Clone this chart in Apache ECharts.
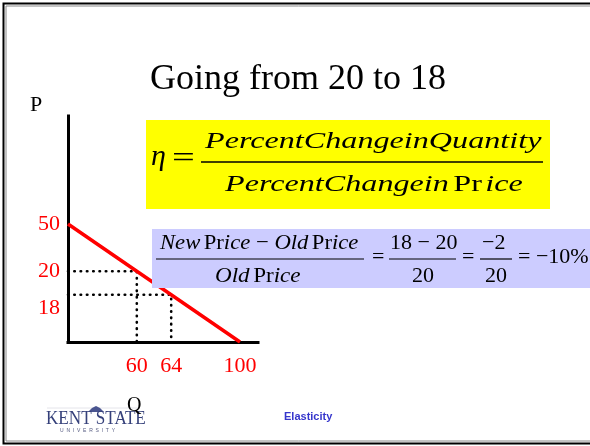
<!DOCTYPE html>
<html>
<head>
<meta charset="utf-8">
<style>
html,body{margin:0;padding:0;background:#fff}
#main{width:590px;height:446px}
</style>
</head>
<body>
<div id="main"></div>
<script src="https://cdn.jsdelivr.net/npm/echarts@6/dist/echarts.min.js"></script>
<script>
// axis categories, blank ones are spacers so the sketch keeps its proportions
var quantityCats = ['0', 'q1', '60', '64', 'q2', '100'];
var priceCats = ['0', 'p1', '18', '20', 'p2', '50'];
var quantityTicks = ['60', '64', '100'];
var priceTicks = ['50', '20', '18'];

// demand curve  P = 50 - Q/2
var demandQ = ['0', '60', '64', '100'];
var demandP = ['50', '20', '18', '0'];

// old and new (Q, P)
var oldPoint = ['60', '20'];
var newPoint = ['64', '18'];

var serif = '"Liberation Serif", "Times New Roman", serif';
var red = '#ff0000';

var chart = echarts.init(document.getElementById('main'));

function guide(pt) {
  return [['0', pt[1]], pt, [pt[0], '0']];
}

var dotted = {color: '#000', width: 2.6, type: [0.5, 5.8], cap: 'round'};

var option = {
  animation: false,
  grid: [
    {left: 68, top: 224, width: 172, height: 118},   // data area
    {left: 68, top: 116, width: 190, height: 226}    // axis frame
  ],
  xAxis: [
    {
      type: 'category', gridIndex: 0, data: quantityCats, boundaryGap: false,
      axisLine: {show: false}, axisTick: {show: false}, splitLine: {show: false},
      axisLabel: {
        color: red, fontFamily: serif, fontSize: 22, margin: 13, interval: 0,
        formatter: function (v) { return quantityTicks.indexOf(v) >= 0 ? v : ''; }
      }
    },
    {
      type: 'value', gridIndex: 1, min: 0, max: 1,
      axisLine: {show: true, lineStyle: {color: '#000', width: 3, cap: 'square'}},
      axisTick: {show: false}, axisLabel: {show: false}, splitLine: {show: false}
    }
  ],
  yAxis: [
    {
      type: 'category', gridIndex: 0, data: priceCats, boundaryGap: false,
      axisLine: {show: false}, axisTick: {show: false}, splitLine: {show: false},
      axisLabel: {
        color: red, fontFamily: serif, fontSize: 22, margin: 8, interval: 0,
        formatter: function (v) {
          if (priceTicks.indexOf(v) < 0) return '';
          return v === newPoint[1] ? '{lo|' + v + '}' : v;
        },
        rich: {
          lo: {color: red, fontFamily: serif, fontSize: 22, padding: [26, 0, 0, 0]}
        }
      }
    },
    {
      type: 'value', gridIndex: 1, min: 0, max: 1,
      axisLine: {show: true, lineStyle: {color: '#000', width: 3, cap: 'square'}},
      axisTick: {show: false}, axisLabel: {show: false}, splitLine: {show: false}
    }
  ],
  series: [
    {
      type: 'line', xAxisIndex: 0, yAxisIndex: 0, symbol: 'none', z: 2,
      data: guide(oldPoint), lineStyle: dotted
    },
    {
      type: 'line', xAxisIndex: 0, yAxisIndex: 0, symbol: 'none', z: 2,
      data: guide(newPoint), lineStyle: dotted
    },
    {
      type: 'line', xAxisIndex: 0, yAxisIndex: 0, symbol: 'none', z: 3,
      data: demandQ.map(function (q, i) { return [q, demandP[i]]; }),
      lineStyle: {color: red, width: 3.5}
    }
  ],
  graphic: [
    // slide frame
    {type: 'polyline', z: 1, shape: {points: [[600, 3.5], [3.5, 3.5], [3.5, 443.5], [600, 443.5]]},
      style: {stroke: '#000', lineWidth: 2, fill: null}},
    {type: 'polyline', z: 1, shape: {points: [[600, 6], [6, 6], [6, 441], [600, 441]]},
      style: {stroke: '#888', lineWidth: 1, fill: null}},

    {type: 'text', x: 150, y: 80, z: 100,
      style: {text: 'Going from 20 to 18', font: '36px ' + serif, fill: '#000', verticalAlign: 'middle'}},
    {type: 'text', x: 30, y: 105, z: 100,
      style: {text: 'P', font: '22px ' + serif, fill: '#000', verticalAlign: 'middle'}},

    // elasticity formula
    {type: 'rect', z: 90, shape: {x: 146, y: 120, width: 404, height: 89}, style: {fill: '#ffff00'}},
    {type: 'text', x: 151, y: 157, z: 100,
      style: {text: 'η', font: 'italic 30px ' + serif, fill: '#000', verticalAlign: 'middle'}},
    {type: 'text', x: 172, y: 159, z: 100, scaleX: 1.35,
      style: {text: '=', font: '30px ' + serif, fill: '#000', verticalAlign: 'middle'}},
    {type: 'text', x: 205, y: 142, z: 100, scaleX: 1.34,
      style: {text: 'PercentChangeinQuantity', font: 'italic 24px ' + serif, fill: '#000', verticalAlign: 'middle'}},
    {type: 'line', z: 100, shape: {x1: 201, y1: 162, x2: 543, y2: 162}, style: {stroke: '#000', lineWidth: 1.5}},
    {type: 'text', x: 225, y: 185, z: 100, scaleX: 1.34,
      style: {
        text: '{i|PercentChangein} {u|Pr}{s| }{i|ice}', verticalAlign: 'middle',
        rich: {
          i: {fontFamily: serif, fontSize: 24, fontStyle: 'italic', fill: '#000'},
          u: {fontFamily: serif, fontSize: 24, fill: '#000'},
          s: {fontFamily: serif, fontSize: 10, fill: '#000'}
        }
      }},

    // percent change in price
    {type: 'rect', z: 90, shape: {x: 152, y: 229, width: 450, height: 59}, style: {fill: '#ccccff'}},
    {type: 'text', x: 160, y: 243, z: 100, scaleX: 1.03,
      style: {
        text: '{i|New} {u|Pr}{i|ice}{u| − }{i|Old} {u|Pr}{i|ice}', verticalAlign: 'middle',
        rich: {
          i: {fontFamily: serif, fontSize: 22, fontStyle: 'italic', fill: '#000'},
          u: {fontFamily: serif, fontSize: 22, fill: '#000'}
        }
      }},
    {type: 'line', z: 100, shape: {x1: 156, y1: 259, x2: 364, y2: 259}, style: {stroke: '#000', lineWidth: 1.2}},
    {type: 'text', x: 215, y: 276, z: 100, scaleX: 1.05,
      style: {
        text: '{i|Old} {u|Pr}{i|ice}', verticalAlign: 'middle',
        rich: {
          i: {fontFamily: serif, fontSize: 22, fontStyle: 'italic', fill: '#000'},
          u: {fontFamily: serif, fontSize: 22, fill: '#000'}
        }
      }},
    {type: 'text', x: 372, y: 257, z: 100,
      style: {text: '=', font: '22px ' + serif, fill: '#000', verticalAlign: 'middle'}},
    {type: 'text', x: 390, y: 243, z: 100,
      style: {text: '18 − 20', font: '22px ' + serif, fill: '#000', verticalAlign: 'middle'}},
    {type: 'line', z: 100, shape: {x1: 389, y1: 259, x2: 456, y2: 259}, style: {stroke: '#000', lineWidth: 1.2}},
    {type: 'text', x: 412, y: 276, z: 100,
      style: {text: '20', font: '22px ' + serif, fill: '#000', verticalAlign: 'middle'}},
    {type: 'text', x: 462, y: 257, z: 100,
      style: {text: '=', font: '22px ' + serif, fill: '#000', verticalAlign: 'middle'}},
    {type: 'text', x: 482, y: 243, z: 100,
      style: {text: '−2', font: '22px ' + serif, fill: '#000', verticalAlign: 'middle'}},
    {type: 'line', z: 100, shape: {x1: 480, y1: 259, x2: 512, y2: 259}, style: {stroke: '#000', lineWidth: 1.2}},
    {type: 'text', x: 485, y: 276, z: 100,
      style: {text: '20', font: '22px ' + serif, fill: '#000', verticalAlign: 'middle'}},
    {type: 'text', x: 518, y: 257, z: 100,
      style: {text: '= −10%', font: '22px ' + serif, fill: '#000', verticalAlign: 'middle'}},

    // footer
    {type: 'line', z: 100, shape: {x1: 47, y1: 408, x2: 140, y2: 408}, style: {stroke: '#e4e4ea', lineWidth: 1}},
    {type: 'polygon', z: 100, shape: {points: [[88, 412], [92, 408], [96, 406], [100, 408], [104, 412]]},
      style: {fill: '#4a5590'}},
    {type: 'text', x: 46, y: 419, z: 100, scaleX: 0.95,
      style: {text: 'KENT STATE', font: '18px ' + serif, fill: '#35407a', verticalAlign: 'middle'}},
    {type: 'text', x: 60, y: 431, z: 100,
      style: {text: 'U  N  I  V  E  R  S  I  T  Y', font: '5px "Liberation Sans", sans-serif', fill: '#555a80', verticalAlign: 'middle'}},
    {type: 'text', x: 127, y: 406, z: 101,
      style: {text: 'Q', font: '20px ' + serif, fill: '#000', verticalAlign: 'middle'}},
    {type: 'text', x: 284, y: 417, z: 100,
      style: {text: 'Elasticity', font: 'bold 11px "Liberation Sans", Arial, sans-serif', fill: '#3535cc', verticalAlign: 'middle'}}
  ]
};

chart.setOption(option);
</script>
</body>
</html>
